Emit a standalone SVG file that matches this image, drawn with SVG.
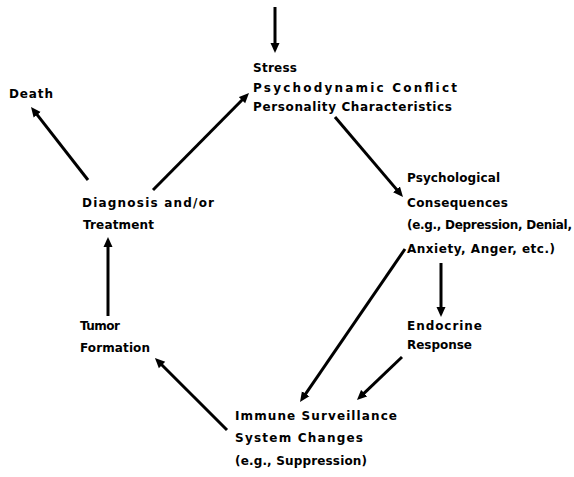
<svg xmlns="http://www.w3.org/2000/svg" width="574" height="477" viewBox="0 0 574 477">
  <style>
    text { font-family: "DejaVu Sans", "Liberation Sans", sans-serif; font-size: 12px; font-weight: bold; fill: #000; }
    .edge { stroke: #000; stroke-width: 3; fill: none; marker-end: url(#head); }
  </style>
  <defs>
    <marker id="head" markerUnits="userSpaceOnUse" markerWidth="11" markerHeight="10" viewBox="0 0 11 10" refX="4" refY="5" orient="auto">
      <path d="M0,0.5 L10,5 L0,9.5 z" fill="#000"/>
    </marker>
  </defs>
  <rect width="574" height="477" fill="#fff"/>

  <g id="connectors">
    <line class="edge" x1="275" y1="7" x2="275" y2="47"/>
    <line class="edge" x1="88" y1="180" x2="34.7" y2="111.7"/>
    <line class="edge" x1="153" y1="190" x2="244.8" y2="97.3"/>
    <line class="edge" x1="335" y1="117" x2="399.1" y2="192.4"/>
    <line class="edge" x1="405" y1="249" x2="303.4" y2="397.1"/>
    <line class="edge" x1="441" y1="263" x2="441" y2="311"/>
    <line class="edge" x1="402" y1="357" x2="361.3" y2="395.9"/>
    <line class="edge" x1="227" y1="430" x2="159.2" y2="362.2"/>
    <line class="edge" x1="108" y1="316" x2="108" y2="243"/>
  </g>

  <g id="stress">
    <text x="253" y="72" textLength="44" lengthAdjust="spacing">Stress</text>
    <text x="253" y="92" textLength="204" lengthAdjust="spacing">Psychodynamic Conflict</text>
    <text x="253" y="111" textLength="199" lengthAdjust="spacing">Personality Characteristics</text>
  </g>

  <g id="death">
    <text x="9" y="98" textLength="44" lengthAdjust="spacing">Death</text>
  </g>

  <g id="diagnosis">
    <text x="82" y="207" textLength="132" lengthAdjust="spacing">Diagnosis and/or</text>
    <text x="83" y="229" textLength="71" lengthAdjust="spacing">Treatment</text>
  </g>

  <g id="psychological">
    <text x="407" y="182" textLength="93" lengthAdjust="spacing">Psychological</text>
    <text x="407" y="207" textLength="101" lengthAdjust="spacing">Consequences</text>
    <text x="407" y="229" textLength="165" lengthAdjust="spacing">(e.g., Depression, Denial,</text>
    <text x="407" y="253" textLength="148" lengthAdjust="spacing">Anxiety, Anger, etc.)</text>
  </g>

  <g id="endocrine">
    <text x="407" y="330" textLength="75" lengthAdjust="spacing">Endocrine</text>
    <text x="407" y="349" textLength="65" lengthAdjust="spacing">Response</text>
  </g>

  <g id="tumor">
    <text x="80" y="330" textLength="40" lengthAdjust="spacing">Tumor</text>
    <text x="80" y="352" textLength="70" lengthAdjust="spacing">Formation</text>
  </g>

  <g id="immune">
    <text x="235" y="420" textLength="162" lengthAdjust="spacing">Immune  Surveillance</text>
    <text x="235" y="442" textLength="128" lengthAdjust="spacing">System Changes</text>
    <text x="235" y="465" textLength="132" lengthAdjust="spacing">(e.g., Suppression)</text>
  </g>
</svg>
